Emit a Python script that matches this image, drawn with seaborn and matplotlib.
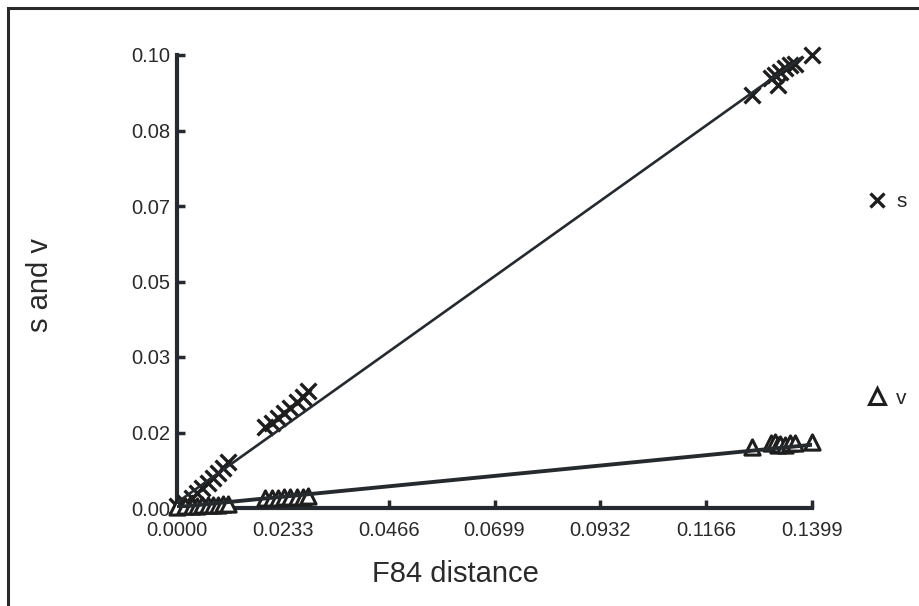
import numpy as np
import pandas as pd
import matplotlib
matplotlib.use('Agg')
import matplotlib.pyplot as plt
from matplotlib.lines import Line2D
from matplotlib.patches import Rectangle
import seaborn as sns

# distances
f84 = [0.0000, 0.0018, 0.0033, 0.0044, 0.0055, 0.0068, 0.0079, 0.0090, 0.0101, 0.0112,
       0.0194, 0.0209, 0.0223, 0.0236, 0.0249, 0.0264, 0.0278, 0.0289,
       0.1267, 0.1309, 0.1317, 0.1324, 0.1328, 0.1340, 0.1350, 0.1362, 0.1399]
s_vals = [0.0005, 0.0010, 0.0022, 0.0033, 0.0044, 0.0055, 0.0066, 0.0077, 0.0088, 0.0101,
          0.0178, 0.0187, 0.0198, 0.0209, 0.0220, 0.0233, 0.0244, 0.0257,
          0.0908, 0.0945, 0.0952, 0.0930, 0.0959, 0.0967, 0.0974, 0.0976, 0.0996]
v_vals = [0.0003, 0.0004, 0.0005, 0.0005, 0.0006, 0.0006, 0.0007, 0.0007, 0.0008, 0.0008,
          0.0022, 0.0023, 0.0023, 0.0024, 0.0024, 0.0025, 0.0025, 0.0026,
          0.0135, 0.0142, 0.0145, 0.0138, 0.0141, 0.0138, 0.0143, 0.0143, 0.0145]

# fitted lines
s_fit_x = [0.0, 0.1375]
s_fit_y = [0.0012, 0.0990]
v_fit_x = [0.0, 0.13987]
v_fit_y = [0.0002, 0.0139]

x_max = 0.13987
y_max = 0.0996
x_tick_labels = ['0.0000', '0.0233', '0.0466', '0.0699', '0.0932', '0.1166', '0.1399']
y_tick_labels = ['0.00', '0.02', '0.03', '0.05', '0.07', '0.08', '0.10']

df = pd.DataFrame({'F84': f84, 's': s_vals, 'v': v_vals})

sns.set_theme(style='ticks')
plt.rcParams['font.family'] = ['Liberation Sans', 'DejaVu Sans']

ink = '#1e1e1e'
fig = plt.figure(figsize=(9.19, 6.06), dpi=100)
ax = fig.add_axes([177/919, 1-508/606, 635/919, 453/606])

sns.scatterplot(data=df, x='F84', y='s', marker='x', s=130, color=ink,
                linewidth=2.4, ax=ax, clip_on=False, zorder=3)
sns.scatterplot(data=df, x='F84', y='v', marker='^', s=120, facecolor='white',
                edgecolor=ink, linewidth=2.2, ax=ax, clip_on=False, zorder=3)
ax.plot(s_fit_x, s_fit_y, color='#262a2e', lw=1.9, zorder=4)
ax.plot(v_fit_x, v_fit_y, color='#262a2e', lw=2.8, zorder=4)

ax.set_xlim(0, x_max)
ax.set_ylim(0, y_max)
ax.set_xticks(np.linspace(0, x_max, 7))
ax.set_xticklabels(x_tick_labels)
ax.set_yticks(np.linspace(0, y_max, 7))
ax.set_yticklabels(y_tick_labels)
ax.tick_params(direction='in', length=6, width=2.5, color='#262a2e',
               labelsize=14.5, labelcolor='#2a2a2a')
ax.tick_params(axis='x', pad=9)
ax.tick_params(axis='y', pad=5)
sns.despine(ax=ax)
for sp in ['left', 'bottom']:
    ax.spines[sp].set_linewidth(3)
    ax.spines[sp].set_color('#262a2e')

ax.set_xlabel('F84 distance', fontsize=21, color='#2a2a2a')
ax.set_ylabel('s and v', fontsize=21, color='#2a2a2a')
ax.xaxis.set_label_coords((455-177)/635, (508-560)/453)
ax.yaxis.set_label_coords((54-177)/635, (508-285)/453)

# legend entries sit far apart on the right
h_s = Line2D([], [], marker='x', ls='', color=ink, markersize=10, markeredgewidth=2.4)
h_v = Line2D([], [], marker='^', ls='', markerfacecolor='white', markeredgecolor=ink,
             markersize=11, markeredgewidth=2.2)
leg1 = fig.legend([h_s], ['s'], loc='center left', bbox_to_anchor=(869/919, 1-202/606),
                  frameon=False, fontsize=15, handlelength=0.8, handletextpad=0.5,
                  borderpad=0, borderaxespad=0)
leg2 = fig.legend([h_v], ['v'], loc='center left', bbox_to_anchor=(869/919, 1-398/606),
                  frameon=False, fontsize=15, handlelength=0.8, handletextpad=0.5,
                  borderpad=0, borderaxespad=0)

# outer frame (left and top edges visible)
fig.patches.append(Rectangle((8/919, -0.2), 1.2, 1.2 - 8/606, transform=fig.transFigure,
                             fill=False, edgecolor='#2a2a2a', lw=2.2, clip_on=False))

fig.savefig('out.png', dpi=100)
